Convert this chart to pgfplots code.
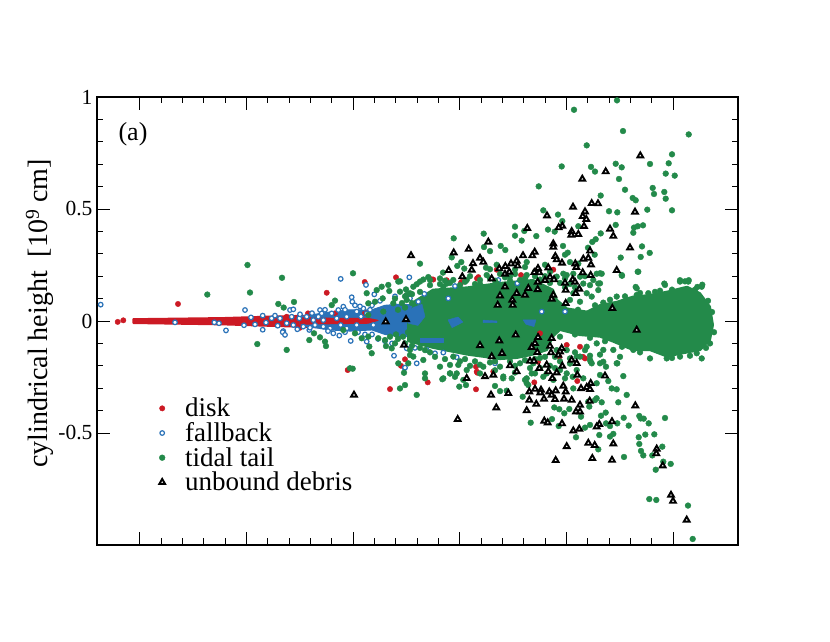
\documentclass[border=0pt]{standalone}
\usepackage{fontspec}
\setmainfont{Liberation Serif}
\usepackage{pgfplots}
\pgfplotsset{compat=1.18}
\definecolor{cred}{HTML}{CC1A24}
\definecolor{cblue}{HTML}{2A72B8}
\definecolor{cgreen}{HTML}{238A4A}
\begin{document}
\begin{tikzpicture}[x=1pt,y=1pt]
\useasboundingbox (-97pt,-97pt) rectangle (733pt,545pt);
\begin{axis}[
 at={(0pt,0pt)},anchor=south west,
 scale only axis,width=641pt,height=448pt,
 xmin=97,xmax=738,ymin=-1,ymax=1,
 xtick={139.7,246.4,353.1,459.8,566.5,673.2},xticklabels={},
 ytick={-0.5,0,0.5,1},yticklabels={-0.5,0,0.5,1},
 minor x tick num=4,minor y tick num=4,
 tick align=inside,
 major tick length=13pt,minor tick length=6.5pt,
 every tick/.style={black,line width=0.9pt},
 axis line style={line width=1.1pt},
 tick label style={font=\fontsize{21.5}{23}\selectfont},
 yticklabel style={xshift=-1pt},
 ylabel={cylindrical height \ [10$^{\mathrm{9}}$ cm]},
 ylabel style={font=\fontsize{28}{30}\selectfont,at={(axis description cs:-0.089,0.517)},anchor=center},
 clip=false,
 legend style={draw=none,fill=none,at={(axis cs:158,-0.335)},anchor=north west,
   font=\fontsize{27}{28}\selectfont,row sep=0.3pt,inner sep=0pt},
 legend cell align=left,
 legend image code/.code={\draw[#1] plot coordinates {(4pt,0pt)}; \path[draw=none] (0pt,0pt) -- (25pt,0pt);},
]
% --- dense cores
\addplot[forget plot,fill=cred,draw=cred,line width=1.6pt,line join=round] coordinates {(133.3,.009)(223.3,.014)(273.3,.021)(323.3,.026)(390,.03)(390,-.029)(323.3,-.029)(273.3,-.023)(223.3,-.016)(133.3,-.010)} -- cycle;
% disk
\addplot[only marks,mark=*,mark size=2.7pt,color=cred] coordinates {
(178,.076)(117.7,-.004)(123.3,.003)(326.7,.126)(364.7,.174)(396,.195)(347.7,-.219)(405,-.171)(390,-.304)(427.7,-.274)(476,-.305)(534.3,-.274)(401,-.2)(476,-.204)(477.3,-.231)(493.3,-.226)(577.3,-.268)(559.3,-.160)(538,-.182)(583,-.16)(496.7,.229)(553.3,.229)(478.3,.196)(461.7,.174)(433.3,.185)(446.7,.182)(477,.190)(461,.171)(521,.205)(431.7,.186)(540,-.055)(566.7,-.107)(580,-.115)(585,-.167)(476.7,-.226)(308,.034)(286.7,.019)(335,.034)(365,.036)(300,-.03)
};
% fallback core
\addplot[forget plot,fill=cblue,draw=cblue,line width=1pt,line join=round] coordinates {(300,.02)(330,.04)(350,.05)(372,.05)(385,.07)(400,.075)(425,.07)(460,.04)(460,-.05)(425,-.07)(400,-.07)(385,-.06)(372,-.04)(350,-.045)(330,-.04)(300,-.02)} -- cycle;
\addplot[forget plot,fill=cred,draw=cred,line width=1pt,line join=round] coordinates {(300,.014)(335,.012)(368,.012)(378,.003)(368,-.01)(335,-.012)(300,-.014)} -- cycle;
% fallback
\addplot[only marks,mark=*,mark size=2.3pt,mark options={draw=cblue,fill=white,line width=1.2pt},color=cblue] coordinates {
(100.7,.073)(175,-.006)(214.3,-.006)(219,-.010)(226,-.042)(244,-.019)(245,.049)(251,.016)(262.7,.024)(262.7,-.039)(266,-.007)(271.7,.012)(280,.012)(277.7,-.021)(283.3,-.045)(282.7,-.050)(285,-.062)(286.7,-.010)(290,.049)(293.3,.052)(291.7,.019)(297.3,-.037)(299.3,.012)(303.3,-.025)(309.3,-.040)(306.7,.019)(313.3,.004)(320,.049)(321.7,.034)(318.3,.019)(323.3,-.025)(333.3,-.055)(339.3,-.065)(330,-.033)(340.7,.188)(343.3,.064)(351.7,.106)(352.3,.086)(338.3,.049)(350.7,-.089)(366,.161)(374.3,.119)(363.3,.056)(366.7,-.092)(394,-.155)(404.7,-.210)(409.3,.195)(346.7,.019)(356.7,.042)(356.7,-.018)(346.7,-.033)(366.7,.034)(373.3,-.018)(336.7,.012)(331.7,.034)(340.7,-.018)(315,-.018)(293.3,-.018)(323.3,.004)
(424.3,.121)(455,.156)(448.3,.101)(410,.101)(418.3,.086)(435,-.144)(443.3,-.141)(426.7,-.129)(406.7,-.122)(456.7,-.162)(405,-.208)(416.7,-.189)(495,-.189)(541.7,.042)(565,.042)(498.3,.183)(517.3,.168)(355,.07)(380,.09)(395,.11)(378,-.08)(392,-.1)(361,.02)(370,.05)(385,-.09)(415,-.12)
(325,.05)(312,.035)(345,.05)(360,.065)(372,.07)(358,-.05)(345,-.05)(328,-.045)(372,-.06)(365,-.06)(300,.03)(275,.024)(255,-.015)(310,-.03)
};
% tidal tail core
\addplot[forget plot,fill=cgreen,draw=cgreen,line width=2pt,line join=round] coordinates {(408,-.01)(415,.09)(433,.14)(467,.15)(500,.17)(533,.183)(553,.14)(557,.094)(567,.056)(587,.042)(600,.071)(617,.086)(633,.109)(650,.116)(667,.131)(687,.153)(700,.124)(710,.064)(713,-.018)(710,-.085)(700,-.13)(683,-.144)(667,-.159)(650,-.13)(633,-.13)(613,-.092)(600,-.07)(580,-.063)(560,-.04)(553,-.07)(547,-.13)(533,-.15)(517,-.165)(500,-.17)(467,-.15)(433,-.12)(408,-.09)} -- cycle;
% blue seen through the tail
\addplot[forget plot,fill=cblue,draw=cblue,line join=round] coordinates {(413,.06)(422,.075)(425,.02)(418,-.02)(408,-.01)(405,.03)} -- cycle;
\addplot[forget plot,fill=cblue,draw=cblue,line join=round] coordinates {(448,.005)(458,.018)(463,-.005)(452,-.03)} -- cycle;
\addplot[forget plot,fill=cblue,draw=cblue,line join=round] coordinates {(483,.004)(497,0)(497,-.008)(483,-.007)} -- cycle;
\addplot[forget plot,fill=cblue,draw=cblue,line join=round] coordinates {(523,.005)(536,.005)(534,-.025)(526,-.015)} -- cycle;
\addplot[forget plot,fill=cblue,draw=cblue,line join=round] coordinates {(420,-.075)(443,-.075)(443,-.095)(420,-.095)} -- cycle;
% tidal tail
\addplot[only marks,mark=*,mark size=2.9pt,color=cgreen] coordinates {
(617,.985)(574,.943)(623,.848)(688.7,.833)(586.7,.784)(672,.744)(650,.701)(668.7,.704)(615.7,.702)(621.7,.686)(561.7,.690)(591,.688)(595,.667)(665.7,.658)(674.7,.649)(619,.634)(652.7,.594)(538.7,.601)(625,.586)(664.3,.576)(654,.567)(600.7,.560)(632.7,.549)(635.7,.539)(665.7,.546)(647.3,.497)(672,.494)(609,.490)(617.3,.485)(543.3,.494)(558,.475)(562.3,.446)(515,.421)(615.7,.429)(643,.427)(637.7,.423)(634,.417)(633.3,.394)(548,.408)(524.3,.402)(578.3,.423)(554.7,.399)(600.7,.391)(483.7,.390)(515,.381)(536.3,.379)(595.7,.365)(592.3,.353)(521.7,.359)(453.7,.369)(500.7,.335)(563,.335)(642,.333)(505.3,.317)(484,.330)(490,.312)(588,.327)(649.7,.304)(567.7,.305)(565,.296)(594.7,.296)(451.7,.284)(620.7,.283)(640.7,.286)(420,.256)(461.3,.263)(457.3,.246)(496.7,.251)(486,.238)(490,.231)(637.7,.220)(464.3,.234)(443,.216)(622,.202)(428.3,.196)(423.3,.185)(416.7,.164)(446.7,.167)(400,.177)(596.7,.211)(601.7,.211)(570,.263)(578.3,.256)(545,.251)(526.7,.263)(525,.241)(664.3,.167)(680,.182)(685,.177)(688.7,.182)(702.3,.162)(697.3,.152)(635.7,.152)(598.3,.167)(573.3,.211)(583.3,.167)(563.3,.211)
(416.7,-.330)(405,-.286)(400,-.301)(442.3,-.260)(425,-.234)(459.3,-.293)(466,-.286)(450,-.234)(455,-.249)(458.3,-.196)(463.3,-.263)(480,-.234)(495,-.290)(500,-.313)(506.7,-.311)(503.3,-.256)(511.7,-.256)(522.7,-.338)(526.7,-.278)(525,-.263)(528.3,-.286)(535,-.234)(543.3,-.249)(553.3,-.263)(531.7,-.234)(565,-.256)(573.3,-.301)(572.7,-.249)(583.3,-.256)(596.7,-.278)(600,-.241)(608.3,-.268)(611.7,-.301)(616.7,-.305)(626.7,-.330)(618.3,-.363)(623.3,-.246)(617.3,-.189)(606,-.204)(600,-.189)(590.7,-.182)(596.7,-.345)(595,-.353)(601.7,-.363)(589.3,-.382)(588.3,-.360)(581,-.427)(569.3,-.393)(564.3,-.412)(554.3,-.386)(559.3,-.394)(552,-.438)(530.7,-.454)(558.7,-.469)(585,-.476)(590,-.464)(605.7,-.409)(601,-.423)(617.3,-.457)(623.7,-.432)(628.7,-.467)(610,-.516)(613.3,-.504)(599.3,-.509)(576,-.519)(598.3,-.573)(624,-.607)(638.7,-.519)(645.3,-.507)(654.3,-.506)(639.3,-.549)(641,-.580)(643.3,-.600)(652.3,-.600)(662.3,-.561)(665,-.433)(639.3,-.424)(640.7,-.435)(643.7,-.436)(648.7,-.457)(606,-.457)(610,-.469)(670.7,-.638)(663.3,-.628)(655.7,-.664)(649.3,-.795)(656.3,-.799)(688,-.824)(692.7,-.973)
(282,.193)(207.3,.118)(250,.127)(247.5,.25)(353,.213)(278.3,.076)(283.7,.060)(294,.085)(257.3,-.103)(286.7,-.129)(309.3,-.085)(314,-.055)(320,-.073)(325,-.092)(326,-.112)(350,-.211)(352.7,-.213)(331.7,.071)(335,.091)(366.7,.124)(381.7,.153)(388.3,.161)(376.7,.138)(398.3,.176)(389.3,.134)(400,.131)(406,.141)(382.7,.101)(368.3,.079)(375,.086)(393.3,.079)(406.7,.094)(383.3,.042)(368.3,.027)(343.3,-.040)(355,-.055)(361.7,-.077)(368.3,-.070)(378.3,-.077)(369.3,-.114)(371.7,-.144)(386,-.112)(391.7,-.122)(398.3,-.189)(404,-.231)(408.3,-.189)(410,-.152)(410,.124)
(420,.176)(430,.183)(440,.190)(413.3,.153)(406.7,.116)(443.3,.153)(453.3,.183)(480,.183)(496.7,.168)(486.7,.205)(466.7,.183)(510,.198)(520,.183)(526.7,.205)(556.7,.198)(566.7,.205)(580,.198)(593.3,.183)(600,.213)(586.7,.124)(591.7,.109)(598.3,.138)(600,.168)(573.3,.124)(570,.094)(580,.086)(636.7,.146)(648.3,.124)(665,.161)(680,.176)(688.3,.176)(701.7,.153)(638.3,.220)(621.7,.205)(636.7,.116)(616.7,.109)(603.3,.082)
(616.7,-.189)(603.3,-.182)(590,-.174)(591.7,-.189)(580,-.159)(586.7,-.115)(596.7,-.100)(613.3,-.129)(603.3,-.129)(633.3,-.129)(650,-.167)(666.7,-.167)(680,-.159)(701.7,-.167)(710,-.100)(696.7,-.144)(560,-.070)(566.7,-.130)(570,-.167)(576.7,-.159)(556.7,-.130)(533.3,-.189)(520,-.189)(500,-.204)(483.3,-.204)(466.7,-.219)(450,-.234)(440,-.204)(423.3,-.174)(413.3,-.159)(410,-.129)(453.3,-.159)(546.7,-.234)(566.7,-.234)(526.7,-.256)(443.3,-.256)(576.7,-.219)(560,-.219)(503.3,-.248)(425,-.256)(450,-.196)(456.7,-.234)
(405,.06)(398,.05)(408,-.05)(403,-.07)(396,-.06)(440,.165)(460,.16)(475,.165)(490,.19)(505,.195)(515,.21)(535,.2)(545,.2)(550,.17)(560,.17)(570,.165)(575,.15)(545,-.16)(555,-.16)(535,-.17)(515,-.2)(490,-.185)(475,-.18)(460,-.18)(435,-.16)(425,-.13)(540,-.21)(550,-.2)(560,-.18)
(610,.095)(625,.11)(655,.13)(672,.14)(695,.14)(708,.09)(712,.04)(714,-.05)(706,-.12)(690,-.155)(672,-.165)(640,-.14)(622,-.115)(605,-.09)(590,-.075)(575,-.06)(578,.05)(595,.07)(640,.125)(660,.135)
(395,.1)(405,.11)(412,.12)(420,.13)(402,.08)(412,.08)(398,-.08)(405,-.1)(412,-.11)(420,-.12)(390,-.07)(385,-.085)(395,-.1)
(430,.16)(450,.17)(465,.175)(480,.165)(495,.18)(510,.18)(525,.19)(540,.185)(445,.18)(470,.2)(500,.21)(515,.23)(535,.22)(550,.22)(565,.19)(585,.2)(590,.16)(565,.15)
(430,-.14)(445,-.17)(465,-.17)(480,-.195)(495,-.18)(510,-.18)(525,-.175)(540,-.165)(470,-.2)(495,-.22)(515,-.23)(530,-.21)(555,-.21)(570,-.19)(590,-.155)(575,-.14)(585,-.13)(600,-.15)(620,-.16)
};
% unbound debris
\addplot[only marks,mark=triangle*,mark size=3.3pt,mark options={draw=black,fill=white,line width=1.9pt},color=black] coordinates {
(640.3,.738)(605.7,.667)(582.3,.634)(573,.509)(591.7,.525)(598,.524)(635,.487)(547,.470)(585,.488)(582.7,.467)(586.3,.454)(527.3,.414)(584,.423)(562.3,.424)(558.7,.417)(610,.411)(571.7,.400)(571.3,.384)(578.3,.387)(613.3,.379)(488.3,.353)(553.3,.345)(553.3,.330)(630,.327)(468.7,.321)(453.7,.305)(411,.292)(590,.313)(534.7,.308)(523,.292)(532.3,.292)(555.3,.289)(556.7,.274)(480,.281)(483.3,.263)(473,.257)(516.7,.268)(511,.256)(517.7,.246)(562,.259)(583.3,.277)(588.3,.281)(591,.251)(575.3,.256)(576.3,.240)(448.7,.226)(471.7,.228)(499.3,.234)(505.3,.244)(505,.210)(509.3,.219)(538,.235)(548.3,.238)(534.3,.217)(539.3,.216)(616.7,.226)(582.7,.216)(590.7,.204)(462.3,.198)(491.7,.189)(537.7,.174)(545,.182)(550,.196)(554,.185)(572.7,.185)(575,.174)(565,.170)
(505,.153)(500,.113)(516.7,.124)(525,.116)(528.3,.146)(537.7,.141)(512.3,.094)(497.7,.071)(512.7,.071)(553.3,.116)(551.7,.098)(565.7,.138)(575.7,.124)(579.3,.143)(565.7,.079)(612.3,.057)(636.7,-.040)(406,.007)(515.7,-.062)(538,-.073)(551.7,-.077)(535,-.100)(499.3,-.088)(480,-.109)(404,-.107)(531.7,-.117)(550,-.112)(537.3,-.140)(561.7,-.122)(560,-.137)(551,-.141)(502,-.144)(491.7,-.159)(558.3,-.152)(571.7,-.174)(576.7,-.189)(530,-.179)(534,-.179)(546.7,-.196)(562.3,-.201)(510,-.199)(539.3,-.211)(516.7,-.226)(548.3,-.226)(556.7,-.231)(493.3,-.241)(485,-.248)(577.3,-.241)(605,-.245)(466.7,-.256)(552.3,-.256)(385.7,-.003)(354,-.330)
(563.3,-.290)(590.7,-.278)(586.7,-.296)(581,-.301)(590,-.305)(565.7,-.316)(535,-.304)(541,-.308)(529.3,-.316)(540.3,-.320)(549.3,-.316)(555.7,-.311)(551.7,-.330)(555,-.350)(544,-.348)(564,-.348)(571.7,-.353)(529.3,-.353)(589.7,-.357)(536.3,-.371)(491,-.330)(508.3,-.323)(580,-.375)(635.3,-.378)(496.3,-.387)(526.7,-.400)(576,-.405)(580,-.405)(457.7,-.439)(544.3,-.446)(547.7,-.454)(562,-.458)(612,-.449)(599.3,-.461)(596.7,-.472)(579.3,-.482)(573.3,-.490)(588.3,-.545)(594.7,-.555)(613.3,-.548)(566.7,-.560)(555.7,-.622)(592.3,-.613)(612,-.621)(656.7,-.571)(656.3,-.592)(662.7,-.646)(671,-.777)(673,-.804)(686.7,-.888)
};
\legend{disk,fallback,tidal tail,unbound debris}
\node[font=\fontsize{26}{28}\selectfont] at (axis cs:133,0.835) {(a)};
\end{axis}
\end{tikzpicture}
\end{document}
